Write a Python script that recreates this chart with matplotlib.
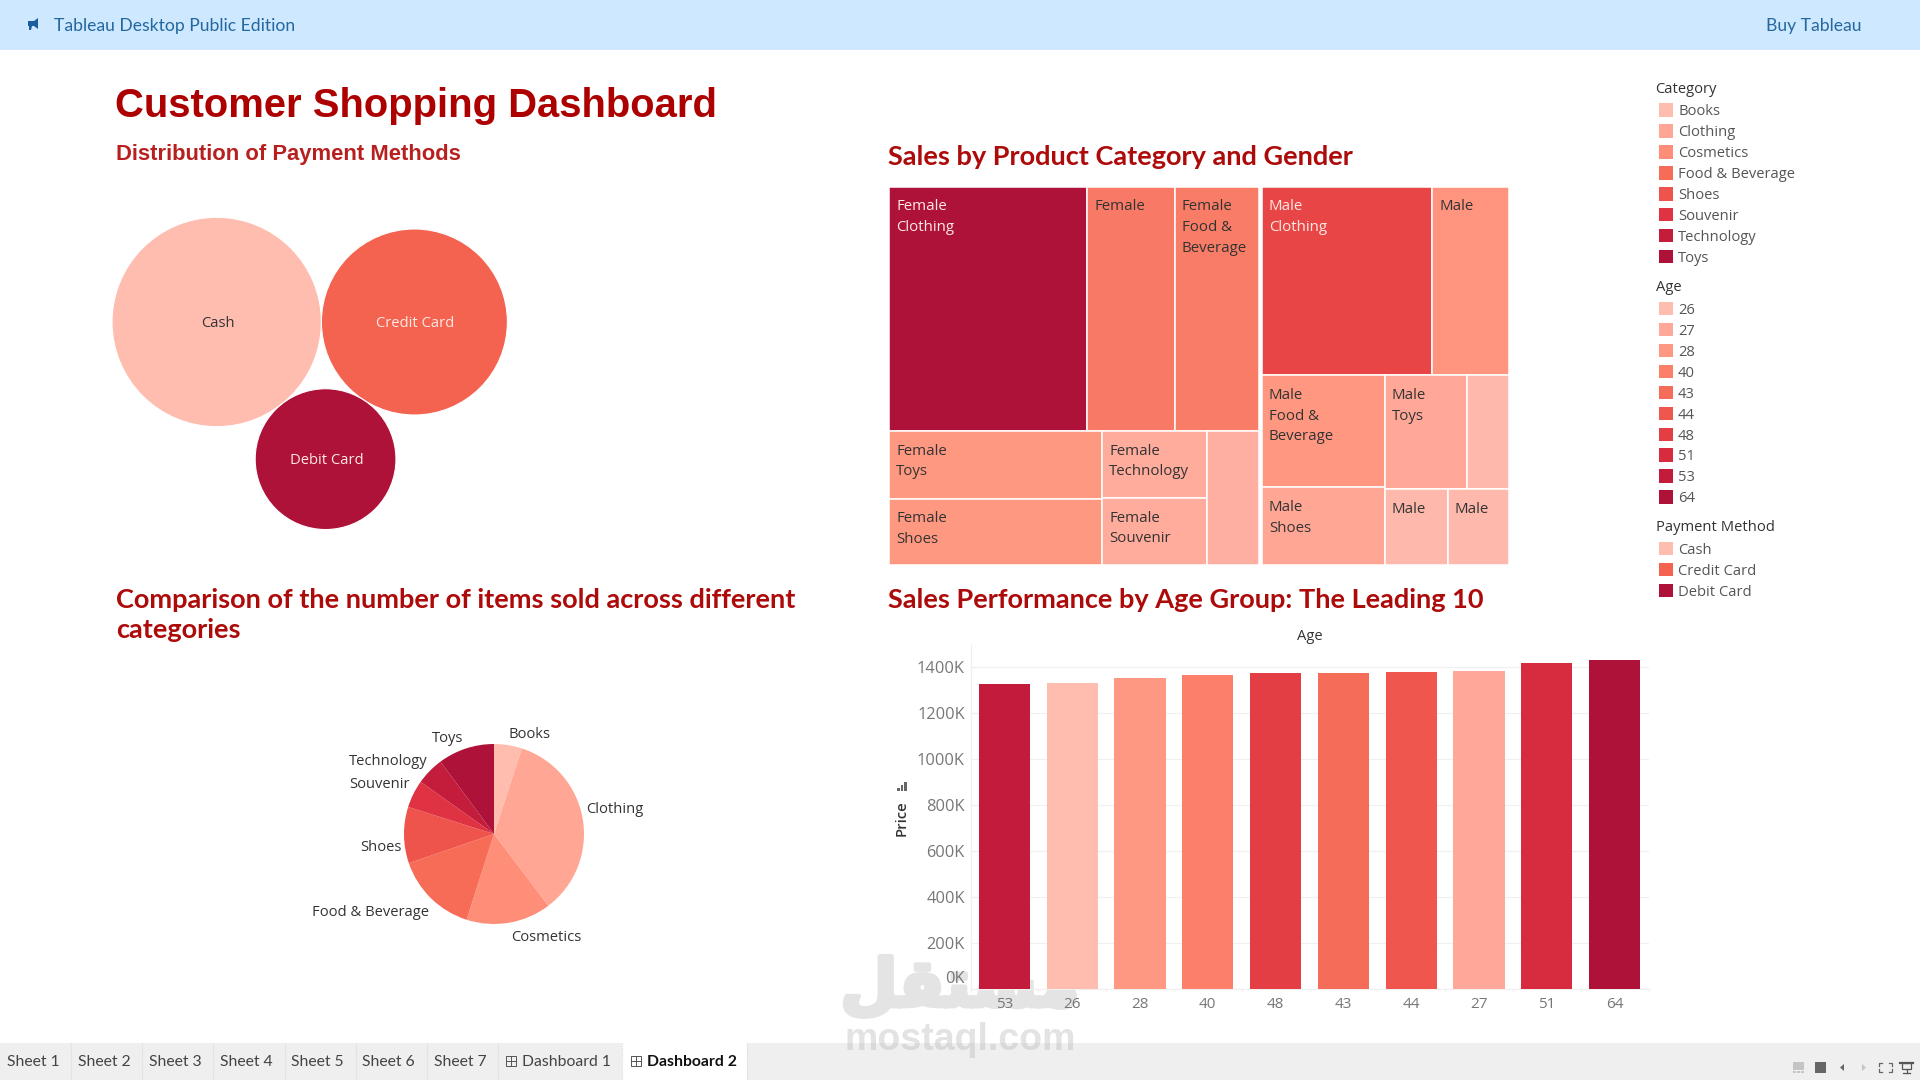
#!/usr/local/bin/python
#coding=utf-8

import numpy as np
import matplotlib
matplotlib.use('Agg')
import matplotlib.pyplot as plt
import matplotlib.patheffects as pe
from matplotlib.patches import Circle, Rectangle, Polygon
from matplotlib.transforms import ScaledTranslation

W, H = 1920, 1080

payment_names = ['Cash', 'Credit Card', 'Debit Card']
payment_sales = [112.8, 89.0, 51.0]
payment_colors = ['#FFBDB0', '#F46350', '#AE1239']
payment_text = ['#333333', '#FFE9E4', '#FFE9E4']

categories = ['Books', 'Clothing', 'Cosmetics', 'Food & Beverage', 'Shoes', 'Souvenir', 'Technology', 'Toys']
items_sold = [15000, 103600, 45500, 44300, 30200, 14900, 15000, 30300]
category_colors = ['#FFBDB0', '#FFA695', '#FF8E78', '#F76C57', '#EF544C', '#DF3242', '#C41C3B', '#AE1239']

female_labels = ['Female\nClothing', 'Female', 'Female\nFood &\nBeverage', 'Female\nToys', 'Female\nShoes',
                 'Female\nTechnology', 'Female\nSouvenir', '']
female_sales = [68.0, 30.0, 28.8, 20.3, 19.8, 9.9, 9.9, 9.6]
female_colors = ['#AE1239', '#F87A66', '#F87C66', '#FE9881', '#FE9881', '#FFAC9D', '#FFAC9D', '#FFAFA1']

male_labels = ['Male\nClothing', 'Male', 'Male\nFood &\nBeverage', 'Male\nShoes', 'Male\nToys', '', 'Male', 'Male']
male_sales = [45.2, 20.2, 19.4, 13.4, 13.2, 6.7, 6.7, 6.5]
male_colors = ['#E84646', '#FF957F', '#FF9781', '#FFA695', '#FFA898', '#FFB8AC', '#FFB8AC', '#FFB8AC']

ages = ['53', '26', '28', '40', '48', '43', '44', '27', '51', '64']
age_sales = [1328, 1332, 1354, 1367, 1376, 1376, 1380, 1385, 1419, 1432]
age_colors = ['#C21B3B', '#FFBDB0', '#FF9882', '#FC8069', '#E33E44', '#F56C59', '#EF564D', '#FFA899', '#D72C3F', '#AE1239']
price_ticks = [0, 200, 400, 600, 800, 1000, 1200, 1400]

legend_ages = ['26', '27', '28', '40', '43', '44', '48', '51', '53', '64']
legend_age_colors = ['#FFBDB0', '#FFA899', '#FF9882', '#FC8069', '#F56C59', '#EF564D', '#E33E44', '#D72C3F', '#C21B3B', '#AE1239']

sheet_tabs = ['Sheet 1', 'Sheet 2', 'Sheet 3', 'Sheet 4', 'Sheet 5', 'Sheet 6', 'Sheet 7', 'Dashboard 1', 'Dashboard 2']
tab_edges = [71, 142, 213, 285, 356, 427, 498, 622, 747]
tab_text_x = [7, 78, 149, 220, 291, 362, 434, 522, 647]

# how the treemap panes are cut, 'h' is side by side and 'v' is stacked
female_split = ('v', [('h', [0, 1, 2]), ('h', [('v', [3, 4]), ('v', [5, 6]), 7])])
male_split = ('v', [('h', [0, 1]), ('h', [('v', [2, 3]), ('v', [('h', [4, 5]), ('h', [6, 7])])])])

BODY = ['Open Sans', 'DejaVu Sans']
HEAD = ['Lato', 'DejaVu Sans']
ARIAL = ['Liberation Sans', 'DejaVu Sans']
TITLE_RED = '#AD0A0A'

plt.rcParams['font.family'] = BODY

fig = plt.figure(figsize=(W / 100, H / 100), dpi=100, facecolor='white')


def axes_px(x0, y0, x1, y1):
    return fig.add_axes([x0 / W, 1 - y1 / H, (x1 - x0) / W, (y1 - y0) / H])


page = axes_px(0, 0, W, H)
page.set_xlim(0, W)
page.set_ylim(H, 0)
page.axis('off')


def box(x, y, w, h, color, ax=page):
    ax.add_patch(Rectangle((x, y), w, h, facecolor=color, edgecolor='none'))


def label(x, y, s, size=10.6, color='#555555', ha='left', family=BODY, weight='normal', rotation=0, ax=page):
    ax.text(x, y + 1.8, s, fontsize=size, color=color, ha=ha, va='center', family=family,
            fontweight=weight, rotation=rotation)


# top bar
box(0, 0, W, 50, '#CDE8FF')
page.add_patch(Polygon([(28, 21), (34, 21), (38, 18), (38, 29), (34, 26), (32, 26), (31, 30), (29, 30), (29, 26), (28, 26)],
                       facecolor='#1B5E9E', edgecolor='none'))
label(54, 24.5, 'Tableau Desktop Public Edition', size=12.6, color='#24689F', family=HEAD)
label(1862, 24.5, 'Buy Tableau', size=12.6, color='#24689F', ha='right', family=HEAD)

# bottom tab strip
box(0, 1043, W, 37, '#EFEFEF')
box(tab_edges[7], 1043, tab_edges[8] - tab_edges[7], 37, 'white')
for edge in tab_edges:
    page.plot([edge, edge], [1043, 1080], color='#DADADA', lw=0.8, ls=(0, (1, 1)))
for i in range(len(sheet_tabs)):
    active = i == len(sheet_tabs) - 1
    label(tab_text_x[i], 1060, sheet_tabs[i], size=11.3, color='#111111' if active else '#444444',
          family=HEAD, weight='bold' if active else 'normal')
    if sheet_tabs[i].startswith('Dashboard'):
        ix = tab_text_x[i] - 16
        page.add_patch(Rectangle((ix, 1056), 10, 10, facecolor='none', edgecolor='#555555', lw=0.7))
        page.plot([ix + 5, ix + 5], [1056, 1066], color='#555555', lw=0.7)
        page.plot([ix, ix + 10], [1061, 1061], color='#555555', lw=0.7)

# footer controls
box(1793, 1062, 11, 8, '#C4C4C4')
for sx in [1793, 1797, 1801]:
    box(sx, 1071, 3, 2, '#C4C4C4')
box(1815, 1062, 11, 11, '#666666')
page.add_patch(Polygon([(1844, 1064), (1844, 1071), (1840, 1067.5)], facecolor='#666666', edgecolor='none'))
page.add_patch(Polygon([(1862, 1064), (1862, 1071), (1866, 1067.5)], facecolor='#C4C4C4', edgecolor='none'))
for cx, cy, dx, dy in [(1879, 1063, 1, 1), (1892, 1063, -1, 1), (1879, 1072, 1, -1), (1892, 1072, -1, -1)]:
    page.plot([cx + 3 * dx, cx, cx], [cy, cy, cy + 3 * dy], color='#666666', lw=0.9)
page.plot([1900, 1913], [1063, 1063], color='#555555', lw=1.6)
page.add_patch(Rectangle((1902, 1063), 9, 6, facecolor='none', edgecolor='#555555', lw=0.9))
page.plot([1906.5, 1906.5], [1069, 1073], color='#555555', lw=0.9)
page.plot([1903, 1910], [1073, 1073], color='#555555', lw=0.9)

# site watermark, it sits under the bars
page.text(960, 988, '\ufede\ufed8\ufe98\ufeb4\ufee3', fontsize=47, color='#E4E4E4', ha='center', va='center',
          family=['DejaVu Sans'], fontweight='bold',
          path_effects=[pe.withStroke(linewidth=3.5, foreground='#E4E4E4')])
page.text(960, 1040, 'mostaql.com', fontsize=27, color='#B0B0B0', alpha=0.35, ha='center', va='center',
          family=ARIAL, fontweight='bold')

# dashboard headings
label(115, 104, 'Customer Shopping Dashboard', size=28.8, color='#AD0000', family=ARIAL, weight='bold')
label(116, 152.5, 'Distribution of Payment Methods', size=15.8, color='#B8201F', family=ARIAL, weight='bold')
label(888, 155, 'Sales by Product Category and Gender', size=19.5, color=TITLE_RED, family=HEAD, weight='bold')
label(888, 598, 'Sales Performance by Age Group: The Leading 10', size=19.5, color=TITLE_RED, family=HEAD, weight='bold')
label(116, 598, 'Comparison of the number of items sold across different', size=19.5, color=TITLE_RED, family=HEAD, weight='bold')
label(116, 628, 'categories', size=19.5, color=TITLE_RED, family=HEAD, weight='bold')

# packed bubbles, each circle touches the other two
bubble_ax = axes_px(100, 200, 540, 550)
bubble_ax.set_xlim(-116.7, 323.3)
bubble_ax.set_ylim(-228, 122)
bubble_ax.set_aspect('equal')
bubble_ax.axis('off')
radii = 9.858 * np.sqrt(payment_sales)
d01 = radii[0] + radii[1]
d02 = radii[0] + radii[2]
d12 = radii[1] + radii[2]
bx = (d01 ** 2 + d02 ** 2 - d12 ** 2) / (2 * d01)
by = -np.sqrt(d02 ** 2 - bx ** 2)
centers = [(0, 0), (d01, 0), (bx, by)]
for i in range(3):
    bubble_ax.add_patch(Circle(centers[i], radii[i], facecolor=payment_colors[i], edgecolor='white', lw=0.8))
    bubble_ax.text(centers[i][0] + 1, centers[i][1] - 1.5, payment_names[i], fontsize=10.6, color=payment_text[i],
                   ha='center', va='center')


def cell_total(node, values):
    if isinstance(node, int):
        return values[node]
    return sum(cell_total(n, values) for n in node[1])


def cut(node, values, x, y, w, h, out):
    # children share the parent's side by their sales
    if isinstance(node, int):
        out[node] = (x, y, w, h)
        return
    total = cell_total(node, values)
    pos = 0.0
    for child in node[1]:
        part = cell_total(child, values) / total
        if node[0] == 'h':
            cut(child, values, x + pos * w, y, part * w, h, out)
        else:
            cut(child, values, x, y + pos * h, w, part * h, out)
        pos += part


def draw_treemap(rect, split, values, colors, texts):
    ax = axes_px(*rect)
    ax.set_xlim(0, 1)
    ax.set_ylim(1, 0)
    ax.axis('off')
    cells = {}
    cut(split, values, 0, 0, 1, 1, cells)
    for i, (x, y, w, h) in cells.items():
        ax.add_patch(Rectangle((x, y), w, h, facecolor=colors[i], edgecolor='white', lw=1.1))
        tcolor = '#FFE9E4' if colors[i] in ('#AE1239', '#E84646') else '#333333'
        lines = texts[i].split('\n') if texts[i] else []
        for n, line in enumerate(lines):
            ax.annotate(line, (x, y), xytext=(7, -20 - 20.8 * n), textcoords='offset pixels',
                        fontsize=10.8, color=tcolor, va='center', ha='left')


draw_treemap((889, 187, 1258.5, 565), female_split, female_sales, female_colors, female_labels)
draw_treemap((1262, 187, 1508.5, 565), male_split, male_sales, male_colors, male_labels)

# pie of items sold
pie_ax = axes_px(404, 744, 584, 924)
pie_ax.pie(items_sold, colors=category_colors, startangle=90, counterclock=False, radius=1.0,
           wedgeprops={'linewidth': 0})
pie_ax.set_xlim(-1, 1)
pie_ax.set_ylim(-1, 1)
pie_label_px = [(529, 733), (615, 808), (546, 936), (371, 911), (381, 846), (380, 783), (388, 760), (448, 737)]
for i in range(len(categories)):
    label(pie_label_px[i][0], pie_label_px[i][1], categories[i], color='#333333', ha='center')

# bars by age
bar_ax = axes_px(970.5, 644, 1648.5, 989)
bar_ax.patch.set_alpha(0)
bar_ax.bar(range(len(ages)), age_sales, width=0.755, color=age_colors, zorder=3)
bar_ax.set_xlim(-0.5, 9.5)
bar_ax.set_ylim(0, 1501)
bar_ax.set_yticks(price_ticks)
bar_ax.set_yticklabels(['%dK' % t for t in price_ticks], fontsize=11.8, color='#777777')
bar_ax.set_xticks(range(len(ages)))
bar_ax.set_xticklabels(ages, fontsize=11, color='#777777')
bar_ax.tick_params(axis='y', length=0, pad=4)
bar_ax.tick_params(axis='x', length=0, pad=6)
bar_ax.set_xticks(np.arange(-0.5, 10, 1), minor=True)
bar_ax.tick_params(axis='x', which='minor', length=2, color='#EEEEEE', width=0.8)
bar_ax.grid(axis='y', color='#F0F0F0', lw=0.9, zorder=0)
for side in ['top', 'right']:
    bar_ax.spines[side].set_visible(False)
for side in ['left', 'bottom']:
    bar_ax.spines[side].set_color('#F0F0F0')
    bar_ax.spines[side].set_linewidth(0.9)
# the lowest label sits above the baseline so it stays inside the pane
for t, v in zip(bar_ax.get_yticklabels(), price_ticks):
    t.set_verticalalignment('center')
    shift = 10 if v == 0 else -1.5
    t.set_transform(t.get_transform() + ScaledTranslation(0, shift / 100, fig.dpi_scale_trans))
label(1310, 635, 'Age', size=10.6, color='#333333', ha='center')
label(902, 816, 'Price', size=10.6, color='#333333', ha='center', rotation=90, weight='semibold')
box(897, 788, 2.5, 3, '#666666')
box(900.5, 785, 2.5, 6, '#666666')
box(904, 782, 2.5, 9, '#666666')


def legend(title, y_title, names, colors, y_first):
    label(1655.5, y_title, title, size=10.6, color='#333333')
    for i in range(len(names)):
        y = y_first + 20.95 * i
        box(1659, y - 6.7, 14, 13.4, colors[i])
        label(1678, y, names[i], size=10.6, color='#555555')


legend('Category', 87.5, categories, category_colors, 110)
legend('Age', 285.5, legend_ages, legend_age_colors, 308.5)
legend('Payment Method', 525.5, payment_names, payment_colors, 548.5)

plt.savefig('out.png', dpi=100, facecolor='white')
